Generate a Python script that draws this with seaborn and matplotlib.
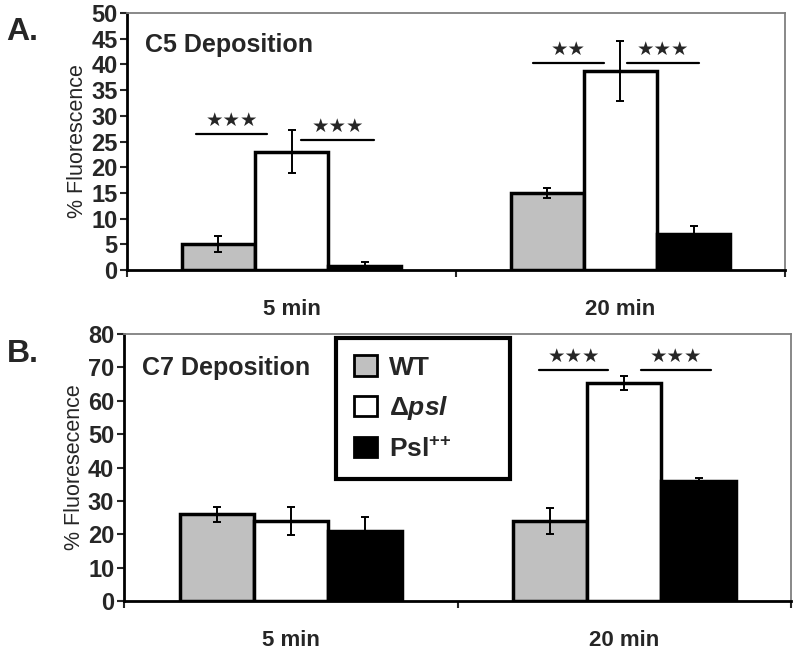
"""C5 / C7 deposition bar charts (two panels)."""

import matplotlib

matplotlib.use("Agg")
import matplotlib.pyplot as plt
import numpy as np
import pandas as pd
import seaborn as sns
from matplotlib.patches import Patch

times = ["5 min", "20 min"]
strains = ["WT", "psl", "Psl++"]
strain_labels = ["WT", r"Δ$\it{psl}$", r"Psl$^{\text{++}}$"]
strain_colors = ["#c0c0c0", "#ffffff", "#000000"]

# values per strain, one entry per time point
c5_wt = [5.1, 15.0]
c5_psl = [23.0, 38.7]
c5_pslpp = [0.8, 7.0]
c5_wt_err = [1.5, 0.9]
c5_psl_err = [4.2, 5.8]
c5_pslpp_err = [0.7, 1.6]

c7_wt = [26.0, 24.0]
c7_psl = [24.0, 65.3]
c7_pslpp = [21.0, 36.0]
c7_wt_err = [2.2, 3.8]
c7_psl_err = [4.3, 2.2]
c7_pslpp_err = [4.1, 1.0]

# significance bars: (x start, x end, y, label) in category units
c5_sig = [(-0.29, -0.075, 26.5, "★★★"), (0.03, 0.25, 25.3, "★★★"),
          (0.735, 0.95, 40.3, "★★"), (1.02, 1.24, 40.3, "★★★")]
c7_sig = [(0.745, 0.95, 69.2, "★★★"), (1.05, 1.26, 69.2, "★★★")]


def long_frame(wt, psl, pslpp):
    rows = []
    for strain, values in zip(strains, [wt, psl, pslpp]):
        for time, value in zip(times, values):
            rows.append({"time": time, "strain": strain, "value": value})
    return pd.DataFrame(rows)


def draw_panel(ax, frame, errors, sig, ymax, ystep, title, ylabel, show_legend):
    sns.barplot(
        data=frame, x="time", y="value", hue="strain",
        order=times, hue_order=strains,
        palette=dict(zip(strains, strain_colors)),
        width=0.667, edgecolor="black", linewidth=2.5,
        errorbar=None, legend=False, ax=ax,
    )
    for container, err in zip(ax.containers, errors):
        centers = [bar.get_x() + bar.get_width() / 2 for bar in container]
        heights = [bar.get_height() for bar in container]
        ax.errorbar(centers, heights, yerr=err, fmt="none", ecolor="black",
                    elinewidth=1.4, capsize=3, capthick=1.4, zorder=5)

    for x0, x1, y, label in sig:
        ax.plot([x0, x1], [y, y], color="black", linewidth=1.6)
        ax.annotate(label, ((x0 + x1) / 2, y), xytext=(0, 3),
                    textcoords="offset points", ha="center", va="bottom",
                    fontsize=14, family="DejaVu Sans", fontweight="normal")

    ax.set_xlim(-0.5, 1.5)
    ax.set_ylim(0, ymax)
    ax.set_yticks(np.arange(0, ymax + 1, ystep))
    ax.set_xticks([0, 1])
    ax.set_xticklabels(times)
    ax.set_xticks([-0.5, 0.5, 1.5], minor=True)
    ax.tick_params(axis="x", which="major", length=0, pad=21, labelsize=16)
    ax.tick_params(axis="x", which="minor", length=5, width=1.5, direction="out")
    ax.tick_params(axis="y", length=5, width=1.5, direction="out", pad=2,
                   labelsize=17)
    ax.set_xlabel("")
    ax.set_ylabel(ylabel, fontsize=15.5, fontweight="normal", labelpad=2)
    for spine in ["left", "bottom"]:
        ax.spines[spine].set_color("black")
        ax.spines[spine].set_linewidth(2)
    for spine in ["top", "right"]:
        ax.spines[spine].set_visible(True)
        ax.spines[spine].set_color("#7f7f7f")
        ax.spines[spine].set_linewidth(1.3)
    ax.text(0.027, 0.847, title, transform=ax.transAxes, fontsize=18,
            fontweight="bold", va="baseline", ha="left")

    if show_legend:
        handles = [Patch(facecolor=c, edgecolor="black", linewidth=2)
                   for c in strain_colors]
        legend = ax.legend(handles, strain_labels, loc="upper left",
                           bbox_to_anchor=(0.318, 0.472, 0.261, 0.513),
                           mode="expand", frameon=True,
                           fancybox=False, edgecolor="black", framealpha=1,
                           fontsize=19, handlelength=0.9, handleheight=0.8,
                           handletextpad=0.45, labelspacing=0.56,
                           borderpad=0.66, borderaxespad=0)
        legend.get_frame().set_linewidth(3)
        for text in legend.get_texts():
            text.set_fontweight("bold")


sns.set_style("ticks")
plt.rcParams["font.family"] = ["Liberation Sans", "DejaVu Sans"]
plt.rcParams["font.weight"] = "bold"
plt.rcParams["mathtext.fontset"] = "custom"
plt.rcParams["mathtext.rm"] = "Liberation Sans:bold"
plt.rcParams["mathtext.it"] = "Liberation Sans:italic:bold"
plt.rcParams["mathtext.bf"] = "Liberation Sans:bold"

fig = plt.figure(figsize=(8, 6.53), dpi=100)
ax_a = fig.add_axes([0.159, 0.5865, 0.822, 0.3935])
ax_b = fig.add_axes([0.155, 0.0796, 0.834, 0.4089])

draw_panel(ax_a, long_frame(c5_wt, c5_psl, c5_pslpp),
           [c5_wt_err, c5_psl_err, c5_pslpp_err], c5_sig, 50, 5,
           "C5 Deposition", "% Fluorescence", False)
draw_panel(ax_b, long_frame(c7_wt, c7_psl, c7_pslpp),
           [c7_wt_err, c7_psl_err, c7_pslpp_err], c7_sig, 80, 10,
           "C7 Deposition", "% Fluoresecence", True)

fig.text(0.008, 1 - 40 / 653, "A.", fontsize=23, fontweight="bold",
         va="baseline")
fig.text(0.008, 1 - 362 / 653, "B.", fontsize=23, fontweight="bold",
         va="baseline")

fig.savefig("out.png", dpi=100)
plt.close(fig)
